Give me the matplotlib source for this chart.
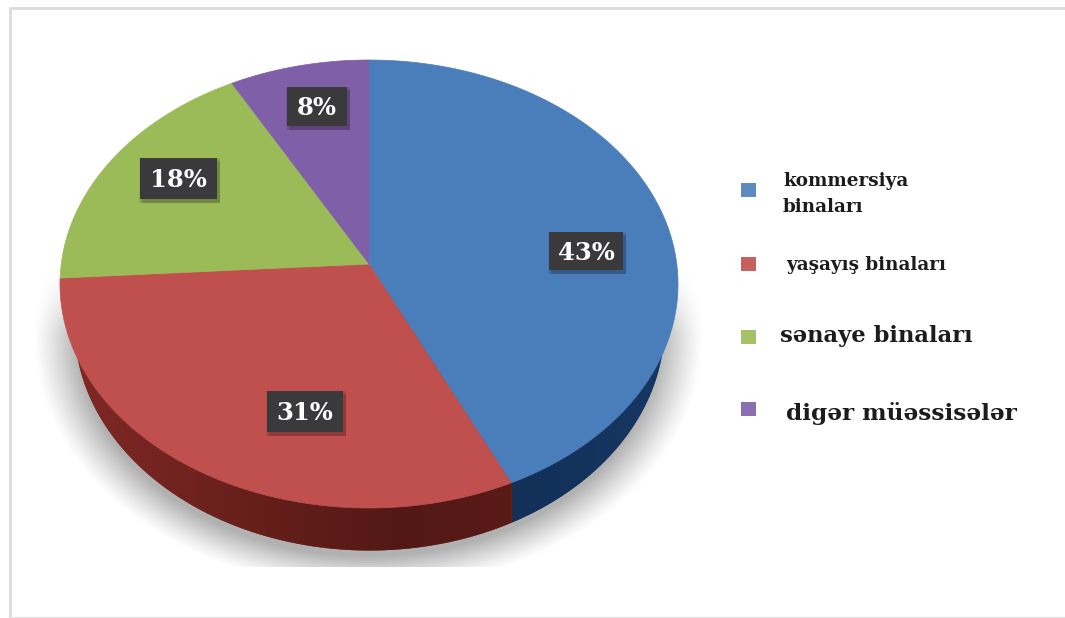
# -*- coding: utf-8 -*-
"""
Building types share: tilted pie with a thick side wall and soft floor shadow.
Everything is laid out in pixel units of the saved figure.
"""

import numpy as np
import matplotlib
matplotlib.use("Agg")
import matplotlib.pyplot as plt
from matplotlib.patches import Polygon, Rectangle

categories = ["kommersiya\nbinaları", "yaşayış binaları", "sənaye binaları", "digər müəssisələr"]
shares = [43, 31, 18, 8]
colors = ["#4a7ebb", "#c0504d", "#9bbb59", "#7f5fa8"]

# top face ellipse, and the point the slices meet at (above centre: perspective)
CX, CY, RX, RY = 369, 284, 309, 224
APEX_Y = 264
# lower rim of the side wall
LOW_CY, LOW_RX, LOW_RY = 325, 295, 225

label_boxes = [(549, 232, 74, 38), (267, 391, 76, 41), (140, 158, 77, 41), (287, 87, 60, 39)]
legend_marker_y = [183, 257, 330, 402]
legend_text_pos = [(783, 212), (786, 270), (780, 342), (786, 420)]
legend_font = [13.2, 13.2, 16.3, 16.7]


def rim(t):
    # walk from the apex along a slice direction until the ellipse edge
    t = np.asarray(t)
    dx = np.sin(t)
    dy = -np.cos(t)
    off = (APEX_Y - CY) / RY
    b = dy * off
    s = -b + np.sqrt(b * b - (off * off - 1))
    return CX + RX * dx * s, APEX_Y + RY * dy * s


def shaded(x, stops):
    xs = [p[0] for p in stops]
    rgb = np.array([matplotlib.colors.to_rgb(p[1]) for p in stops])
    return tuple(np.interp(x, xs, rgb[:, i]) for i in range(3))


def floor_shadow(ax):
    # grey halo around the lower rim, fading upwards and cut flat at the bottom
    yy, xx = np.mgrid[0:618, 0:1065]
    r = np.sqrt(((xx - 368) / 296.0) ** 2 + ((yy - 338) / 222.0) ** 2)
    a = np.clip((1.13 - r) / 0.15, 0, 1) ** 1.2 * 0.55
    a *= np.clip((yy - 265) / 70.0, 0, 1)
    a[yy > 566] = 0
    rgba = np.zeros(yy.shape + (4,))
    rgba[..., :3] = 0.45
    rgba[..., 3] = a
    ax.imshow(rgba, extent=(0, 1065, 618, 0), origin="upper", aspect="auto", zorder=1, interpolation="bilinear")


def main():
    fig = plt.figure(figsize=(10.65, 6.18), dpi=100)
    ax = fig.add_axes([0, 0, 1, 1])
    floor_shadow(ax)
    ax.set_xlim(0, 1065)
    ax.set_ylim(618, 0)
    ax.axis("off")

    # outer frame, open on the right
    ax.plot([1065, 9.5, 9.5], [7.5, 7.5, 617], color="#dcdcdc", lw=2, solid_joinstyle="miter")
    ax.plot([9.5, 1065], [617, 617], color="#e6e6e6", lw=1)

    # slice boundaries as angles clockwise from the top
    edges = np.radians(np.concatenate([[0], np.cumsum(shares)]) * 3.6)
    split_x = rim(edges[1])[0]

    # side wall: solid base, then narrow vertical strips that darken towards the front
    red_stops = [(64, "#8e2e2b"), (170, "#7a2623"), (300, "#621e1a"), (400, "#511815"), (512, "#5a1a16")]
    blue_stops = [(512, "#123058"), (600, "#15355f"), (680, "#183a68")]
    wall_x = np.linspace(CX - LOW_RX, CX + LOW_RX, 600)
    wall_low = LOW_CY + LOW_RY * np.sqrt(np.clip(1 - ((wall_x - CX) / LOW_RX) ** 2, 0, 1))
    ax.fill_between(wall_x, CY, wall_low, where=wall_x < split_x + 1, color="#5a1a16", lw=0, zorder=2)
    ax.fill_between(wall_x, CY, wall_low, where=wall_x >= split_x, color="#123058", lw=0, zorder=2)
    for x in np.arange(CX - LOW_RX, CX + LOW_RX, 1.0):
        xx = np.array([x, x + 1.0])
        low = LOW_CY + LOW_RY * np.sqrt(np.clip(1 - ((xx - CX) / LOW_RX) ** 2, 0, 1))
        c = shaded(x, blue_stops) if x >= split_x else shaded(x, red_stops)
        ax.fill_between(xx, CY, low, color=c, lw=0, antialiased=False, zorder=2)

    # top face
    for i in range(len(shares)):
        t = np.linspace(edges[i], edges[i + 1], 200)
        x, y = rim(t)
        pts = np.column_stack([np.r_[CX, x], np.r_[APEX_Y, y]])
        ax.add_patch(Polygon(pts, closed=True, fc=colors[i], ec=colors[i], lw=0.5, zorder=3))

    # value labels on dark plates with a small drop shadow
    for v, (bx, by, bw, bh) in zip(shares, label_boxes):
        for k in range(5):
            ax.add_patch(Rectangle((bx + k - 1, by + k), bw + 4 - k, bh + 4 - k,
                                   fc="black", ec="none", alpha=0.06, zorder=4))
        ax.add_patch(Rectangle((bx, by), bw, bh, fc="#3a3a3c", ec="none", zorder=5))
        ax.text(bx + bw / 2, by + bh / 2 + 1.5, f"{v}%", color="white", fontsize=17.5,
                fontfamily="DejaVu Serif", fontweight="bold", ha="center", va="center", zorder=6)

    # legend
    for i, name in enumerate(categories):
        ax.add_patch(Rectangle((741, legend_marker_y[i]), 15, 14, fc=colors[i], ec="none", alpha=0.9, zorder=3))
        tx, ty = legend_text_pos[i]
        ax.text(tx, ty, name, fontsize=legend_font[i], fontfamily="DejaVu Serif",
                fontweight="bold", color="#1c1c1c", ha="left", va="baseline",
                linespacing=1.55, zorder=3)

    fig.savefig("out.png", dpi=100, facecolor="white")


if __name__ == "__main__":
    main()
